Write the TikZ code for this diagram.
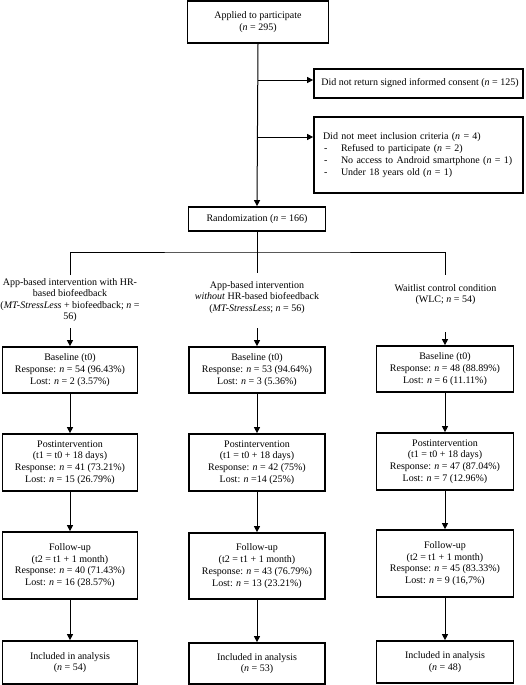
\documentclass[tikz,border=0pt]{standalone}
\usepackage{fontspec}
\setmainfont{Liberation Serif}
\usetikzlibrary{arrows.meta}
\begin{document}
\begin{tikzpicture}[x=1pt,y=-1pt,
  box/.style={draw, line width=1.7pt, align=center, inner sep=0pt, font=\fontsize{10}{11.8}\selectfont},
  colbox/.style={box, minimum width=135pt},
  side/.style={draw, line width=1.7pt, align=left, inner xsep=9pt, inner ysep=0pt, text width=191pt, font=\fontsize{10}{12}\selectfont},
  lab/.style={align=center, inner xsep=0pt, anchor=north, font=\fontsize{10}{11.5}\selectfont},
  conn/.style={line width=1pt},
  arr/.style={conn, -{Triangle[length=6pt,width=6pt]}}
]
\fill[white] (0,0) rectangle (525,685);
\useasboundingbox (0,0) rectangle (525,685);

% top part
\node[box, minimum width=141pt, minimum height=42pt] (apply) at (258,22) {Applied to participate\\(\textit{n} = 295)};
\node[box, align=left, minimum width=209pt, minimum height=29pt] (consent) at (418.5,83.5) {\hspace{3pt}Did not return signed informed consent (\textit{n} = 125)};
\node[side, minimum height=76pt] (incl) at (418.5,155) {Did not meet inclusion criteria (\textit{n} = 4)\\
\makebox[18pt][l]{\hspace{1pt}-}Refused to participate (\textit{n} = 2)\\
\makebox[18pt][l]{\hspace{1pt}-}No access to Android smartphone (\textit{n} = 1)\\
\makebox[18pt][l]{\hspace{1pt}-}Under 18 years old (\textit{n} = 1)};
\node[box, minimum width=137pt, minimum height=24pt] (rand) at (257,219) {Randomization (\textit{n} = 166)};

\draw[arr] (apply.south) -- (rand.north);
\draw[arr] (apply.south |- 0,80) -- (consent.west |- 0,80);
\draw[arr] (apply.south |- 0,137) -- (incl.west |- 0,137);

% group labels
\node[lab, inner ysep=3.3pt] (labL) at (70,275) {App-based intervention with HR-\\based biofeedback\\(\textit{MT-StressLess} + biofeedback; \textit{n} =\\56)};
\node[lab, inner ysep=8.3pt] (labM) at (257,273) {App-based intervention\\\textit{without} HR-based biofeedback\\(\textit{MT-StressLess}; \textit{n} = 56)};
\node[lab, inner ysep=9.3pt] (labR) at (445.5,275) {Waitlist control condition\\(WLC; \textit{n} = 54)};

\coordinate (br) at (rand.south |- 0,252);
\draw[conn] (labL.north) |- (br) -| (labR.north);
\draw[conn] (rand.south) -- (labM.north);

% baseline
\node[colbox, minimum height=46pt] (baseL) at (70,370) {Baseline (t0)\\Response: \textit{n} = 54 (96.43\%)\\Lost: \textit{n} = 2 (3.57\%)};
\node[colbox, minimum width=136pt, minimum height=46pt] (baseM) at (257,370) {Baseline (t0)\\Response: \textit{n} = 53 (94.64\%)\\Lost: \textit{n} = 3 (5.36\%)};
\node[colbox, minimum width=137pt, minimum height=46pt] (baseR) at (445,369) {Baseline (t0)\\Response: \textit{n} = 48 (88.89\%)\\Lost: \textit{n} = 6 (11.11\%)};

\draw[arr] (baseL.north |- 0,328) -- (baseL.north);
\draw[arr] (baseM.north |- 0,328) -- (baseM.north);
\draw[arr] (baseR.north |- 0,332) -- (baseR.north);

% postintervention
\node[colbox, minimum height=57pt] (postL) at (70,462.5) {Postintervention\\(t1 = t0 + 18 days)\\Response: \textit{n} = 41 (73.21\%)\\Lost: \textit{n} = 15 (26.79\%)};
\node[colbox, minimum width=136pt, minimum height=57pt] (postM) at (257,462.5) {Postintervention\\(t1 = t0 + 18 days)\\Response: \textit{n} = 42 (75\%)\\Lost: \textit{n} =14 (25\%)};
\node[colbox, minimum width=137pt, minimum height=57pt] (postR) at (445,461.5) {Postintervention\\(t1 = t0 + 18 days)\\Response: \textit{n} = 47 (87.04\%)\\Lost: \textit{n} = 7 (12.96\%)};

% follow-up
\node[colbox, minimum height=67pt] (folL) at (70,565.5) {Follow-up\\(t2 = t1 + 1 month)\\Response: \textit{n} = 40 (71.43\%)\\Lost: \textit{n} = 16 (28.57\%)};
\node[colbox, minimum width=136pt, minimum height=66pt] (folM) at (257,566) {Follow-up\\(t2 = t1 + 1 month)\\Response: \textit{n} = 43 (76.79\%)\\Lost: \textit{n} = 13 (23.21\%)};
\node[colbox, minimum width=137pt, minimum height=67pt] (folR) at (445,563.5) {Follow-up\\(t2 = t1 + 1 month)\\Response: \textit{n} = 45 (83.33\%)\\Lost: \textit{n} = 9 (16,7\%)};

% included
\node[colbox, minimum height=43pt] (incL) at (70,662.5) {Included in analysis\\(\textit{n} = 54)};
\node[colbox, minimum width=136pt, minimum height=41pt] (incM) at (257,663.5) {Included in analysis\\(\textit{n} = 53)};
\node[colbox, minimum width=137pt, minimum height=42pt] (incR) at (445,662) {Included in analysis\\(\textit{n} = 48)};

\foreach \c in {L,M,R}{
  \draw[arr] (base\c) -- (post\c);
  \draw[arr] (post\c) -- (fol\c);
  \draw[arr] (fol\c) -- (inc\c);
}
\end{tikzpicture}
\end{document}
